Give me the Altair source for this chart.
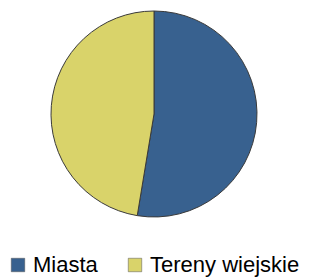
import altair as alt
import pandas as pd

categories = ["Miasta", "Tereny wiejskie"]
values = [52.6, 47.4]
colors = ["#38618F", "#D9D36A"]

df = pd.DataFrame({"kategoria": categories, "udzial": values, "kolejnosc": [0, 1]})

chart = alt.Chart(df).mark_arc(
    outerRadius=103, stroke="#3a3a3a", strokeWidth=1
).encode(
    theta=alt.Theta("udzial:Q", stack=True),
    order=alt.Order("kolejnosc:Q"),
    color=alt.Color(
        "kategoria:N",
        scale=alt.Scale(domain=categories, range=colors),
        legend=alt.Legend(
            title=None,
            orient="none",
            legendX=-1,
            legendY=246,
            direction="horizontal",
            symbolType="square",
            symbolSize=182,
            symbolStrokeColor="#555555",
            symbolStrokeWidth=0.5,
            labelFont="Liberation Sans",
            labelFontSize=22,
            labelColor="#000000",
            labelOffset=4,
            columnPadding=26,
            padding=0,
        ),
    ),
).properties(
    width=292, height=212,
    autosize=alt.AutoSizeParams(type="none"),
    padding={"left": 0, "top": 0, "right": 4, "bottom": 60},
).configure_view(stroke=None)

chart.save("out.html", embed_options={"renderer": "svg", "actions": False})
